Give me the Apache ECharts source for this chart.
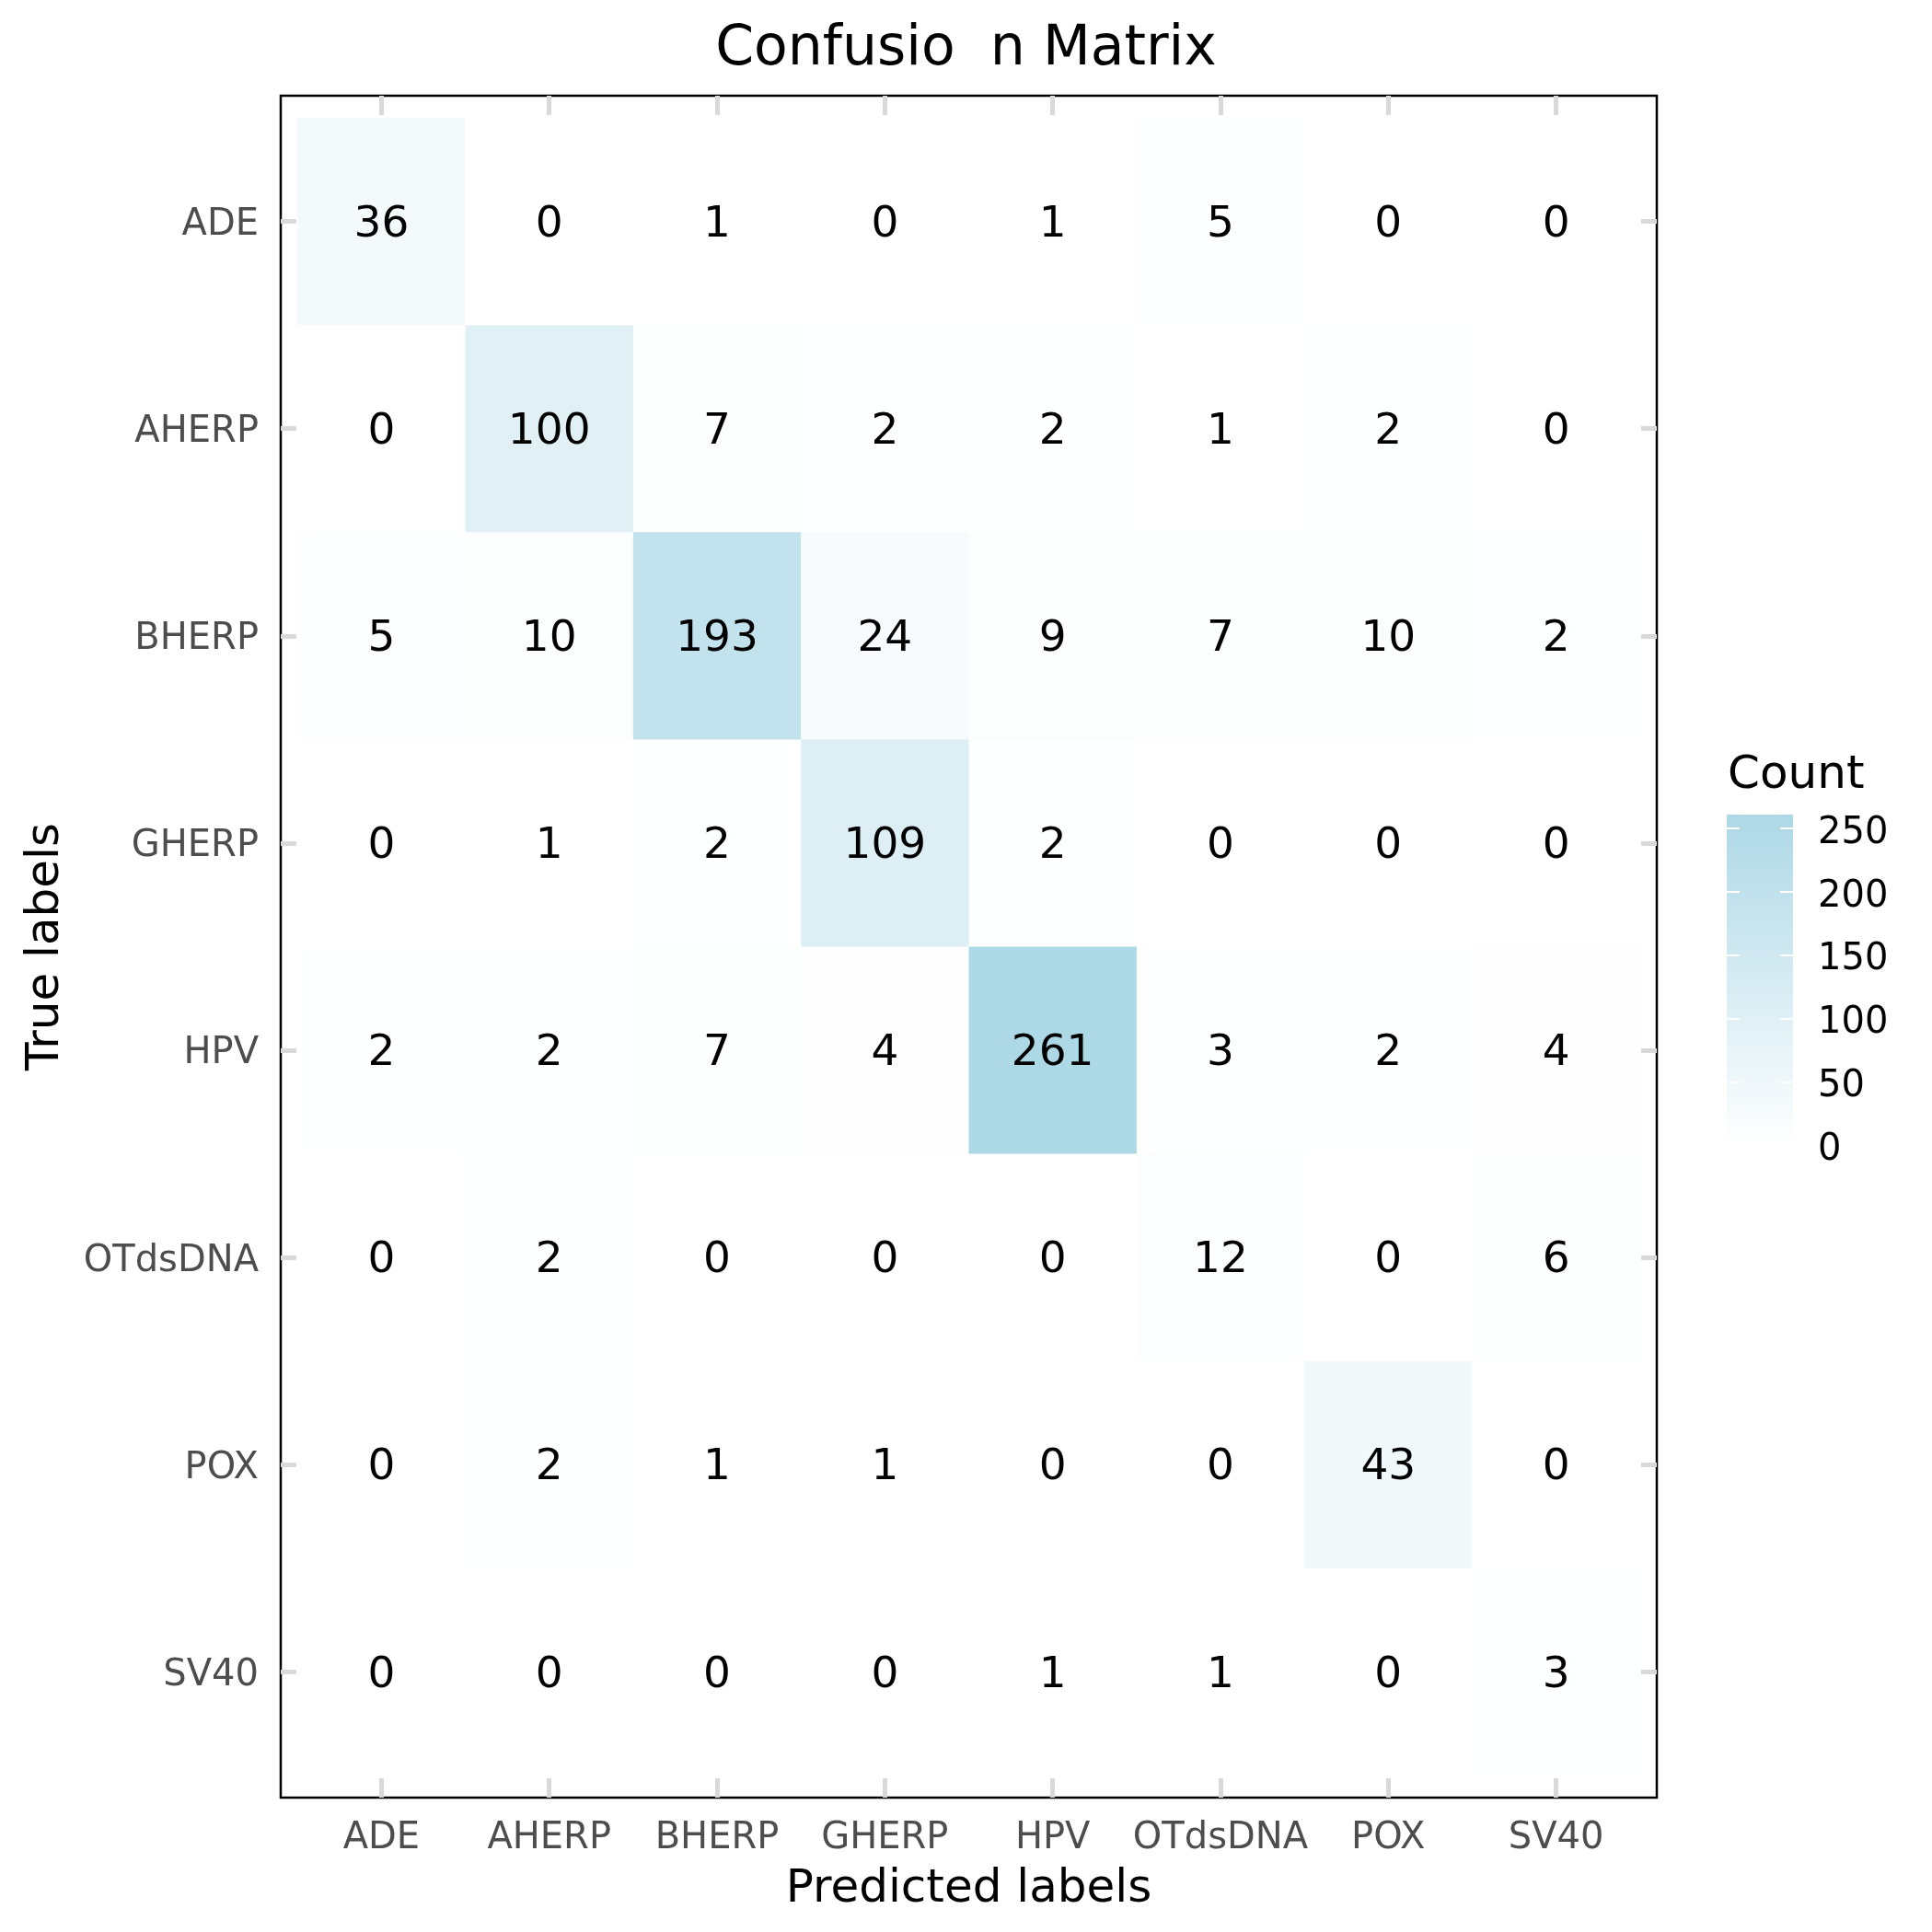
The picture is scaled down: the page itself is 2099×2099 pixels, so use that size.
<!DOCTYPE html>
<html>
<head>
<meta charset="utf-8">
<script src="https://cdn.jsdelivr.net/npm/echarts@6/dist/echarts.min.js"></script>
<style>
html,body{margin:0;padding:0;background:#fff;}
#chart{width:2099px;height:2099px;}
</style>
</head>
<body>
<div id="chart"></div>
<script>
// ---- data ----
const predictedLabels = ['ADE','AHERP','BHERP','GHERP','HPV','OTdsDNA','POX','SV40'];
const trueLabels = ['ADE','AHERP','BHERP','GHERP','HPV','OTdsDNA','POX','SV40'];
const rowADE     = [36, 0, 1, 0, 1, 5, 0, 0];
const rowAHERP   = [0, 100, 7, 2, 2, 1, 2, 0];
const rowBHERP   = [5, 10, 193, 24, 9, 7, 10, 2];
const rowGHERP   = [0, 1, 2, 109, 2, 0, 0, 0];
const rowHPV     = [2, 2, 7, 4, 261, 3, 2, 4];
const rowOTdsDNA = [0, 2, 0, 0, 0, 12, 0, 6];
const rowPOX     = [0, 2, 1, 1, 0, 0, 43, 0];
const rowSV40    = [0, 0, 0, 0, 1, 1, 0, 3];
const legendTicks = [0, 50, 100, 150, 200, 250];
const titleText = 'Confusio  n Matrix';

const rows = [rowADE, rowAHERP, rowBHERP, rowGHERP, rowHPV, rowOTdsDNA, rowPOX, rowSV40];
const cells = [];
rows.forEach((r, yi) => r.forEach((v, xi) => cells.push([xi, yi, v])));
let maxVal = 0;
cells.forEach(c => { if (c[2] > maxVal) maxVal = c[2]; });
const idx = predictedLabels.map((_, i) => i);

const FONT = 'DejaVu Sans';
const chart = echarts.init(document.getElementById('chart'), null, {renderer: 'canvas'});

function ticks(len) {
  return {show: true, inside: true, length: len, lineStyle: {color: '#D9D9D9', width: 5}, customValues: idx.slice()};
}
const noLine = () => ({show: false, onZero: false});

// colour bar geometry: value 0 at y=1245, top (max) at y=885
const barPxPerUnit = 360 / maxVal;
const legendMin = -6;
const legendLabelShift = 5 / barPxPerUnit;   // nudge labels down a few px to match glyph centring
const rowLabelShift = 4 / 225;

const option = {
  animation: false,
  backgroundColor: '#ffffff',
  textStyle: {fontFamily: FONT},
  title: {
    text: titleText, left: 'center', top: 24, padding: 0,
    textStyle: {fontSize: 60, fontWeight: 'normal', color: '#000', fontFamily: FONT}
  },
  graphic: [{
    type: 'text', left: 1877, top: 818,
    style: {text: 'Count', fontSize: 50, fill: '#000', fontFamily: FONT}
  }],
  visualMap: {
    type: 'continuous', show: false, min: 0, max: maxVal, dimension: 2, seriesIndex: 0,
    inRange: {color: ['#FFFFFF', '#ADD8E6']}
  },
  grid: [
    {left: 305, top: 104, width: 1495, height: 1849, show: true, borderColor: '#000', borderWidth: 2.5, backgroundColor: 'transparent'},
    {left: 1876, top: 885, width: 72, height: (maxVal - legendMin) * barPxPerUnit, show: false}
  ],
  xAxis: [
    {
      type: 'value', gridIndex: 0, position: 'bottom', min: -0.6, max: 7.6, z: 10,
      axisLine: noLine(), splitLine: {show: false},
      axisTick: ticks(21),
      axisLabel: {customValues: idx.slice(), formatter: v => predictedLabels[Math.round(v)], fontSize: 40, color: '#4D4D4D', margin: 25, fontFamily: FONT},
      name: 'Predicted labels', nameLocation: 'middle', nameGap: 75,
      nameTextStyle: {fontSize: 50, color: '#000', fontFamily: FONT}
    },
    {
      type: 'value', gridIndex: 0, position: 'top', min: -0.6, max: 7.6, z: 10,
      axisLine: noLine(), splitLine: {show: false},
      axisTick: ticks(21), axisLabel: {show: false}
    },
    {type: 'value', gridIndex: 1, min: 0, max: 1, show: false}
  ],
  yAxis: [
    {
      type: 'value', gridIndex: 0, position: 'left', inverse: true, min: -0.607, max: 7.607, z: 10,
      axisLine: noLine(), splitLine: {show: false},
      axisTick: ticks(17),
      axisLabel: {customValues: idx.map(i => i + rowLabelShift), formatter: v => trueLabels[Math.round(v)], fontSize: 40, color: '#4D4D4D', margin: 24, fontFamily: FONT},
      name: 'True labels', nameLocation: 'middle', nameGap: 230, nameRotate: 90,
      nameTextStyle: {fontSize: 50, color: '#000', fontFamily: FONT}
    },
    {
      type: 'value', gridIndex: 0, position: 'right', inverse: true, min: -0.607, max: 7.607, z: 10,
      axisLine: noLine(), splitLine: {show: false},
      axisTick: ticks(17), axisLabel: {show: false}
    },
    {
      type: 'value', gridIndex: 1, position: 'right', min: legendMin, max: maxVal, z: 10,
      axisLine: noLine(), splitLine: {show: false},
      axisTick: {show: true, inside: true, length: 14, lineStyle: {color: '#FFFFFF', width: 2}, customValues: legendTicks},
      axisLabel: {customValues: legendTicks.map(t => t - legendLabelShift), formatter: v => String(Math.round(v / 50) * 50), fontSize: 40, color: '#000', margin: 27, fontFamily: FONT}
    },
    {
      type: 'value', gridIndex: 1, position: 'left', min: legendMin, max: maxVal, z: 10,
      axisLine: noLine(), splitLine: {show: false},
      axisTick: {show: true, inside: true, length: 14, lineStyle: {color: '#FFFFFF', width: 2}, customValues: legendTicks},
      axisLabel: {show: false}
    }
  ],
  series: [
    {
      type: 'custom', xAxisIndex: 0, yAxisIndex: 0, data: cells,
      renderItem: function (params, api) {
        const x = api.value(0), y = api.value(1), v = api.value(2);
        const p0 = api.coord([x - 0.5, y - 0.5]);
        const p1 = api.coord([x + 0.5, y + 0.5]);
        const rx = Math.min(p0[0], p1[0]), ry = Math.min(p0[1], p1[1]);
        const rw = Math.abs(p1[0] - p0[0]), rh = Math.abs(p1[1] - p0[1]);
        return {
          type: 'group',
          children: [
            {type: 'rect', shape: {x: rx, y: ry, width: rw + 0.5, height: rh + 0.5}, style: {fill: api.visual('color')}},
            {type: 'text', z2: 10, style: {text: String(v), x: rx + rw / 2, y: ry + rh / 2 + 4, align: 'center', verticalAlign: 'middle', fontSize: 47, fontFamily: FONT, fill: '#000'}}
          ]
        };
      }
    },
    {
      type: 'custom', xAxisIndex: 2, yAxisIndex: 2, data: [[0, maxVal]],
      renderItem: function (params, api) {
        const p0 = api.coord([0, 0]);
        const p1 = api.coord([1, api.value(1)]);
        return {
          type: 'rect',
          shape: {x: p0[0], y: p1[1], width: p1[0] - p0[0], height: p0[1] - p1[1]},
          style: {fill: new echarts.graphic.LinearGradient(0, 0, 0, 1, [
            {offset: 0, color: '#ADD8E6'}, {offset: 1, color: '#FFFFFF'}
          ])}
        };
      }
    }
  ]
};
chart.setOption(option);
</script>
</body>
</html>
